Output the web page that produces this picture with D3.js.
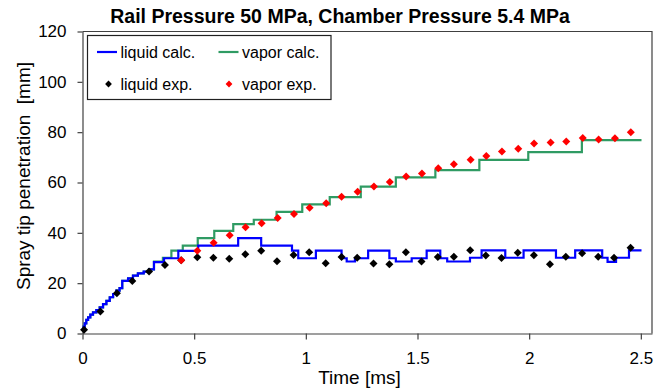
<!DOCTYPE html>
<html>
<head>
<meta charset="utf-8">
<script src="https://cdn.jsdelivr.net/npm/d3@7"></script>
<style>
  html, body { margin: 0; padding: 0; background: #fff; }
  svg { display: block; }
  text { font-family: "Liberation Sans", Arial, sans-serif; fill: #000; }
</style>
</head>
<body>
<svg id="chart" width="668" height="391"></svg>
<script>
// Spray tip penetration, rail pressure 50 MPa / chamber pressure 5.4 MPa

// calculated liquid length (step output of the model): start time of each step [ms] and value [mm]
const liquidCalcT = [0, 0.005, 0.010, 0.017, 0.025, 0.035, 0.047, 0.062, 0.077, 0.092,
  0.107, 0.122, 0.137, 0.151, 0.166, 0.178, 0.204, 0.226, 0.248, 0.274,
  0.298, 0.320, 0.365, 0.429, 0.518, 0.697, 0.800, 0.938, 0.966, 1.045,
  1.160, 1.183, 1.220, 1.279, 1.374, 1.403, 1.474, 1.541, 1.602, 1.633,
  1.735, 1.787, 1.893, 1.975, 2.120, 2.206, 2.327, 2.351, 2.389, 2.447, 2.503];
const liquidCalcV = [1.4, 2.7, 4.0, 5.4, 6.4, 7.5, 8.4, 9.3, 10.4, 11.7,
  13.0, 14.4, 15.7, 17.0, 18.0, 20.9, 21.9, 23.0, 23.9, 24.6,
  25.5, 28.4, 29.9, 32.8, 34.9, 37.9, 34.9, 32.9, 29.9, 32.9,
  29.9, 28.6, 29.9, 32.9, 29.9, 28.6, 29.9, 32.9, 29.9, 28.6,
  30.1, 33.0, 30.1, 33.0, 30.1, 33.0, 30.1, 28.5, 30.1, 33.0, 33.0];

// calculated vapor penetration
const vaporCalcT = [0, 0.005, 0.010, 0.017, 0.025, 0.035, 0.047, 0.062, 0.077, 0.092,
  0.107, 0.122, 0.137, 0.151, 0.166, 0.178, 0.204, 0.226, 0.248, 0.274,
  0.298, 0.320, 0.360, 0.398, 0.449, 0.516, 0.590, 0.675, 0.767, 0.869,
  0.984, 1.107, 1.246, 1.403, 1.580, 1.777, 1.996, 2.236, 2.503];
const vaporCalcV = [1.4, 2.7, 4.0, 5.4, 6.4, 7.5, 8.4, 9.3, 10.4, 11.7,
  13.0, 14.4, 15.7, 17.0, 18.0, 20.9, 21.9, 23.0, 23.9, 24.6,
  25.5, 28.6, 30.1, 32.9, 34.9, 37.9, 40.8, 43.5, 45.2, 48.3,
  51.3, 54.2, 58.4, 62.0, 64.9, 69.0, 72.1, 76.8, 76.8];

// measured liquid length
const liquidExpT = [0.007, 0.080, 0.154, 0.223, 0.298, 0.369, 0.442, 0.514, 0.586, 0.657,
  0.729, 0.800, 0.871, 0.945, 1.015, 1.089, 1.160, 1.230, 1.303, 1.374,
  1.448, 1.518, 1.591, 1.663, 1.736, 1.806, 1.876, 1.949, 2.021, 2.093,
  2.164, 2.237, 2.309, 2.380, 2.454];
const liquidExpV = [1.5, 8.7, 16.0, 20.9, 24.6, 27.2, 29.1, 30.3, 30.1, 29.7,
  31.5, 32.9, 28.7, 31.2, 32.3, 27.9, 30.4, 30.1, 27.8, 27.5,
  32.3, 28.6, 30.4, 30.5, 33.1, 31.0, 30.0, 32.1, 31.1, 27.5,
  30.5, 31.9, 30.5, 30.1, 34.1];

// measured vapor penetration
const vaporExpT = [0.442, 0.514, 0.587, 0.659, 0.730, 0.802, 0.874, 0.947, 1.017, 1.091,
  1.160, 1.232, 1.305, 1.376, 1.449, 1.520, 1.593, 1.663, 1.738, 1.808,
  1.878, 1.951, 2.022, 2.096, 2.166, 2.240, 2.311, 2.384, 2.455];
const vaporExpV = [29.1, 32.9, 36.1, 39.0, 42.2, 43.8, 45.9, 47.5, 50.0, 51.8,
  54.3, 56.3, 58.4, 60.2, 62.4, 63.6, 65.7, 67.3, 69.0, 70.5,
  72.3, 73.4, 75.5, 75.9, 76.3, 77.7, 77.1, 77.6, 80.0];

const xTicks = [0, 0.5, 1, 1.5, 2, 2.5];
const xTickLabels = ["0", "0.5", "1", "1.5", "2", "2.5"];
const yTicks = [0, 20, 40, 60, 80, 100, 120];
const yTickLabels = ["0", "20", "40", "60", "80", "100", "120"];

const seriesNames = ["liquid calc.", "vapor calc.", "liquid exp.", "vapor exp."];
const titleText = "Rail Pressure 50 MPa, Chamber Pressure 5.4 MPa";
const xTitle = "Time [ms]";
const yTitle = "Spray tip penetration  [mm]";

const COL_LIQ = "#0000ff", COL_VAP = "#2f9b63", COL_LEXP = "#000000", COL_VEXP = "#ff0000";

const svg = d3.select("#chart");
const plot = { left: 82.5, right: 652, top: 31.5, bottom: 333.5 };

const x = d3.scaleLinear().domain([0, 2.55]).range([plot.left, plot.right]);
const y = d3.scaleLinear().domain([0, 120]).range([plot.bottom, plot.top]);

const zip = (a, b) => a.map((t, i) => [t, b[i]]);

// frame: top and right edges of the plot area
svg.append("path")
  .attr("d", `M${plot.left},${plot.top}H${plot.right}V${plot.bottom}`)
  .attr("fill", "none").attr("stroke", "#404040").attr("stroke-width", 1.2);

// axes
const yAxis = svg.append("g")
  .attr("transform", `translate(${plot.left},0)`)
  .call(d3.axisLeft(y).tickValues(yTicks).tickFormat((d, i) => yTickLabels[i])
    .tickSize(5).tickSizeOuter(0).tickPadding(11));
const xAxis = svg.append("g")
  .attr("transform", `translate(0,${plot.bottom})`)
  .call(d3.axisBottom(x).tickValues(xTicks).tickFormat((d, i) => xTickLabels[i])
    .tickSize(6).tickSizeOuter(0).tickPadding(12));
[yAxis, xAxis].forEach(g => {
  g.select(".domain").attr("stroke", "#404040").attr("stroke-width", 1.2);
  g.selectAll(".tick line").attr("stroke", "#404040").attr("stroke-width", 1.2);
  g.selectAll(".tick text").style("font-family", '"Liberation Sans", Arial, sans-serif')
    .style("font-size", "17px").attr("fill", "#000");
});

// calculated step curves
const stepLine = d3.line().x(d => x(d[0])).y(d => y(d[1])).curve(d3.curveStepAfter);
svg.append("path").datum(zip(vaporCalcT, vaporCalcV))
  .attr("d", stepLine).attr("fill", "none").attr("stroke", COL_VAP).attr("stroke-width", 2.2);
svg.append("path").datum(zip(liquidCalcT, liquidCalcV))
  .attr("d", stepLine).attr("fill", "none").attr("stroke", COL_LIQ).attr("stroke-width", 2.2);

// diamond marker
const diamond = r => `M0,${-r}L${r},0L0,${r}L${-r},0Z`;
function markers(data, color) {
  svg.append("g").selectAll("path").data(data).join("path")
    .attr("d", diamond(4))
    .attr("transform", d => `translate(${x(d[0])},${y(d[1])})`)
    .attr("fill", color);
}
markers(zip(liquidExpT, liquidExpV), COL_LEXP);
markers(zip(vaporExpT, vaporExpV), COL_VEXP);

// legend
const lg = svg.append("g");
lg.append("rect").attr("x", 87.5).attr("y", 35.5).attr("width", 243.5).attr("height", 64)
  .attr("fill", "#fff").attr("stroke", "#202020").attr("stroke-width", 1.2);
const legendItems = [
  { name: seriesNames[0], color: COL_LIQ, type: "line", cx: 107, cy: 52, tx: 120.5 },
  { name: seriesNames[1], color: COL_VAP, type: "line", cx: 228.5, cy: 52, tx: 242 },
  { name: seriesNames[2], color: COL_LEXP, type: "mark", cx: 108.5, cy: 84, tx: 120.5 },
  { name: seriesNames[3], color: COL_VEXP, type: "mark", cx: 229, cy: 84, tx: 242 }
];
legendItems.forEach(it => {
  if (it.type === "line") {
    lg.append("line").attr("x1", it.cx - 10).attr("x2", it.cx + 10)
      .attr("y1", it.cy).attr("y2", it.cy).attr("stroke", it.color).attr("stroke-width", 2.2);
  } else {
    lg.append("path").attr("d", diamond(3.4)).attr("transform", `translate(${it.cx},${it.cy})`)
      .attr("fill", it.color);
  }
  lg.append("text").attr("x", it.tx).attr("y", it.cy + 5.5)
    .style("font-size", "16px").text(it.name);
});

// titles
svg.append("text").attr("x", 340).attr("y", 23).attr("text-anchor", "middle")
  .style("font-size", "19.5px").style("font-weight", "bold").text(titleText);
svg.append("text").attr("x", 359.5).attr("y", 384).attr("text-anchor", "middle")
  .style("font-size", "19px").text(xTitle);
svg.append("text").attr("transform", "translate(29.5,176) rotate(-90)")
  .attr("text-anchor", "middle").style("font-size", "19px").style("white-space", "pre")
  .text(yTitle);
</script>
</body>
</html>
